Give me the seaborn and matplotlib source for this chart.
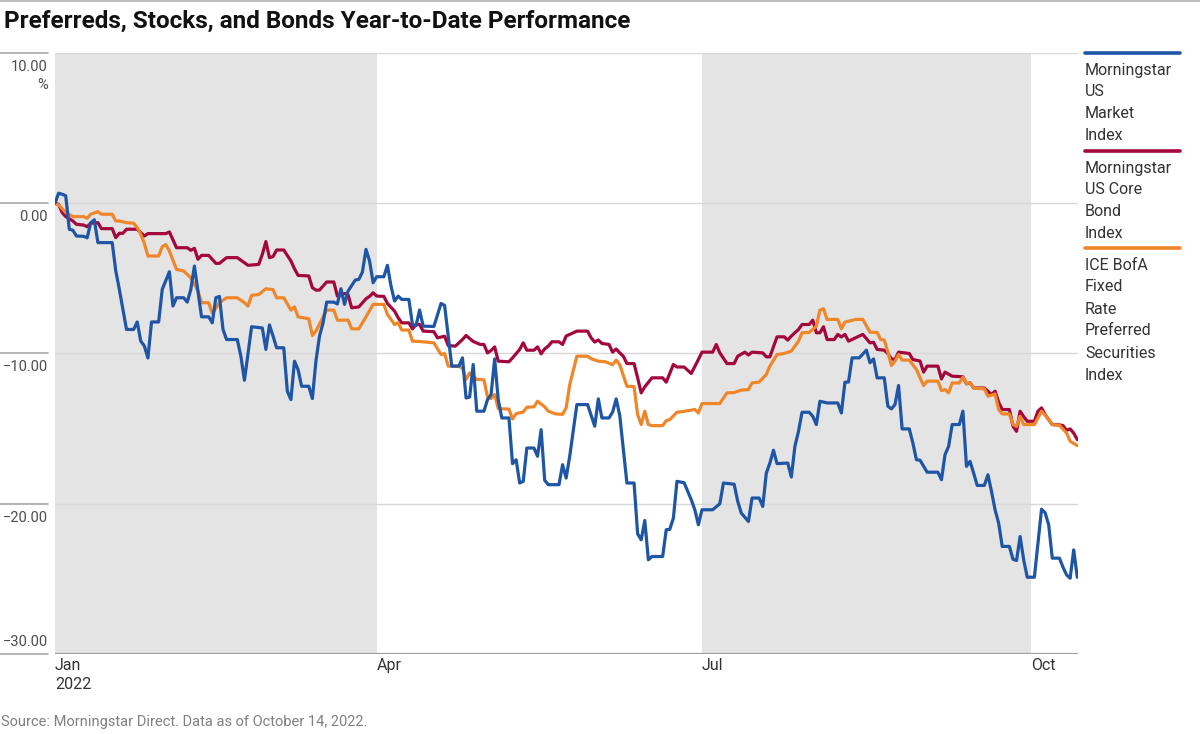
import pandas as pd
import matplotlib.pyplot as plt
import seaborn as sns
from matplotlib.lines import Line2D
from matplotlib.transforms import blended_transform_factory

# days counted from 2022-01-01, values are YTD total return in %
blue_day = [0, 1, 2, 3, 4, 5, 6, 8, 9, 10, 11, 12, 16, 17, 18, 20, 22, 23, 24, 25, 26, 27, 29, 30,
            32, 33, 34, 36, 37, 38, 39, 41, 43, 44, 45, 46, 47, 48, 51, 52, 53, 55, 58, 59, 60, 61,
            62, 64, 65, 66, 67, 68, 69, 71, 72, 73, 74, 75, 76, 78, 79, 80, 81, 82, 84, 85, 86, 87,
            88, 89, 90, 92, 93, 94, 95, 96, 97, 99, 100, 101, 102, 103, 106, 108, 109, 110, 111, 113,
            114, 115, 116, 117, 118, 120, 121, 122, 123, 124, 125, 127, 128, 129, 130, 131, 132, 134,
            135, 136, 137, 138, 141, 142, 143, 144, 146, 149, 151, 152, 153, 155, 156, 157, 158, 160,
            162, 163, 164, 165, 166, 167, 170, 171, 172, 173, 174, 176, 178, 179, 180, 181, 184, 186,
            187, 190, 191, 192, 194, 195, 197, 198, 199, 200, 201, 202, 205, 206, 207, 208, 209, 211,
            212, 213, 214, 216, 219, 220, 221, 222, 223, 225, 227, 228, 229, 230, 232, 233, 234, 235,
            236, 237, 239, 240, 241, 242, 244, 247, 248, 249, 250, 251, 253, 254, 255, 256, 257, 258,
            260, 261, 262, 263, 264, 265, 267, 268, 269, 270, 271, 272, 274, 275, 276, 277, 278, 279,
            281, 282, 283, 284, 285, 286]
blue_val = [0, 0.67, 0.6, 0.5, -1.73, -1.8, -2.18, -2.2, -2.3, -1.29, -1.1, -2.62, -2.62, -4.5, -5.73,
            -8.4, -8.4, -7.9, -9.18, -9.5, -10.3, -7.9, -7.9, -5.73, -4.56, -6.84, -6.29, -6.29, -6.58,
            -5.73, -4.18, -7.56, -7.56, -7.96, -6.29, -6.2, -8.4, -9.07, -9.07, -10.18, -11.78, -8.22,
            -8.3, -9.73, -8.1, -8.84, -9.62, -9.62, -12.51, -13.07, -10.51, -11.07, -12.18, -12.18,
            -13.0, -10.5, -8.84, -7.96, -6.58, -6.58, -6.7, -5.69, -6.73, -5.84, -5.11, -5.07, -4.58,
            -3.07, -3.84, -5.29, -4.89, -4.89, -4.13, -5.51, -6.51, -6.18, -6.4, -6.4, -8.07, -8.15,
            -7.11, -8.18, -8.2, -6.67, -6.8, -8.84, -10.84, -10.84, -10.29, -12.96, -12.9, -10.73,
            -13.84, -13.84, -13.07, -12.73, -10.36, -13.07, -14.29, -14.29, -17.33, -17.07, -18.62,
            -18.51, -16.29, -16.29, -16.84, -15.07, -18.44, -18.73, -18.73, -17.4, -18.29, -16.84,
            -13.4, -13.4, -14.84, -13.02, -14.29, -14.29, -13.9, -13.02, -14.13, -18.62, -18.62, -22.0,
            -22.4, -21.11, -23.73, -23.51, -23.51, -21.73, -21.7, -20.96, -18.51, -18.6, -19.73, -20.4,
            -21.4, -20.4, -20.4, -20.0, -18.62, -18.7, -19.84, -20.62, -21.18, -19.62, -19.62, -20.18,
            -17.96, -17.29, -16.44, -17.33, -17.29, -18.22, -16.18, -15.18, -13.91, -13.91, -14.18,
            -14.73, -13.18, -13.29, -13.29, -13.96, -11.91, -11.9, -10.29, -10.29, -9.78, -10.62,
            -10.36, -11.62, -11.62, -13.51, -13.69, -13.4, -12.13, -15.02, -15.02, -15.96, -17.07,
            -17.1, -17.9, -17.9, -18.4, -16.73, -16.18, -14.73, -14.73, -13.84, -17.51, -17.18, -17.96,
            -18.78, -18.78, -18.07, -19.18, -20.4, -21.29, -22.84, -22.84, -23.69, -23.78, -22.18,
            -23.73, -24.89, -24.89, -22.62, -20.36, -20.6, -21.4, -23.62, -23.62, -24.22, -24.73,
            -24.96, -23.07, -24.89]

red_day = [0, 1, 2, 3, 5, 6, 8, 9, 10, 12, 13, 16, 17, 18, 19, 20, 23, 25, 26, 31, 32, 34, 37, 38, 39,
           40, 41, 43, 45, 46, 48, 51, 54, 57, 58, 59, 60, 61, 62, 64, 66, 67, 68, 71, 72, 73, 74, 76,
           78, 79, 81, 82, 83, 85, 87, 88, 89, 90, 92, 93, 95, 96, 97, 99, 100, 101, 102, 103, 106,
           107, 109, 110, 112, 114, 115, 117, 119, 120, 121, 122, 123, 124, 127, 128, 130, 131, 132,
           134, 135, 136, 137, 138, 139, 141, 142, 143, 145, 146, 149, 150, 151, 152, 153, 155, 156,
           157, 158, 159, 160, 162, 163, 164, 165, 167, 170, 171, 173, 174, 176, 178, 180, 181, 184,
           185, 186, 188, 190, 191, 193, 194, 195, 198, 199, 200, 202, 204, 205, 206, 208, 209, 211,
           212, 213, 214, 215, 216, 218, 219, 220, 221, 222, 224, 226, 228, 229, 230, 232, 233, 234,
           235, 236, 239, 240, 242, 243, 244, 247, 248, 249, 251, 254, 255, 256, 257, 260, 262, 263,
           264, 265, 267, 268, 269, 270, 271, 272, 274, 275, 276, 277, 279, 281, 282, 283, 284, 285,
           286]
red_val = [0, -0.07, -0.62, -0.89, -1.18, -1.4, -1.45, -1.56, -1.33, -1.29, -1.69, -1.69, -2.29, -2.0,
           -2.0, -1.73, -1.73, -2.18, -2.02, -2.02, -1.91, -2.96, -2.96, -3.13, -3.0, -3.73, -3.47,
           -3.47, -4.0, -4.0, -3.62, -3.62, -4.13, -4.07, -3.4, -2.55, -3.62, -3.55, -3.11, -3.11,
           -3.84, -4.36, -4.8, -4.84, -5.62, -5.78, -5.78, -5.24, -5.24, -6.18, -6.0, -6.1, -6.96,
           -6.9, -6.36, -6.2, -5.96, -6.18, -6.2, -6.67, -7.18, -7.62, -7.96, -7.96, -8.36, -8.07,
           -8.07, -8.51, -8.55, -8.96, -8.85, -9.47, -9.51, -9.07, -8.8, -9.2, -9.4, -9.4, -9.96, -9.8,
           -9.56, -10.51, -10.55, -10.29, -9.73, -9.29, -9.78, -9.78, -9.56, -10.02, -9.69, -9.51,
           -9.22, -9.22, -9.4, -8.84, -8.62, -8.51, -8.51, -8.96, -9.24, -9.1, -9.33, -9.4, -9.91,
           -9.7, -9.96, -10.18, -10.67, -10.67, -11.62, -12.62, -12.22, -11.62, -11.62, -11.91,
           -10.73, -10.9, -10.9, -11.33, -10.4, -9.91, -9.91, -9.4, -9.96, -10.67, -10.67, -10.18,
           -9.91, -10.1, -9.91, -9.96, -10.22, -10.22, -8.89, -8.89, -9.11, -8.84, -8.4, -8.07, -8.07,
           -7.78, -8.62, -8.62, -8.22, -9.07, -9.07, -8.73, -8.9, -8.73, -9.18, -8.95, -8.73, -9.29,
           -9.25, -9.73, -9.78, -10.0, -10.36, -10.4, -9.91, -10.0, -10.4, -10.5, -11.24, -10.84,
           -10.84, -11.69, -11.24, -11.51, -11.55, -12.02, -11.95, -12.29, -12.3, -12.73, -12.51,
           -13.24, -13.73, -13.73, -14.84, -15.18, -13.84, -14.2, -14.51, -14.51, -13.84, -13.62,
           -14.07, -14.73, -14.75, -14.8, -15.11, -15.02, -15.3, -15.73]

orange_day = [0, 1, 3, 5, 8, 9, 10, 12, 13, 16, 17, 18, 20, 22, 23, 24, 25, 26, 29, 30, 31, 32, 34,
              36, 38, 40, 41, 43, 44, 46, 48, 51, 53, 54, 55, 57, 59, 61, 62, 64, 66, 67, 68, 71, 72,
              73, 76, 78, 79, 82, 83, 85, 87, 89, 90, 92, 93, 95, 96, 97, 99, 100, 102, 106, 108, 109,
              110, 113, 114, 115, 116, 118, 120, 121, 122, 123, 124, 127, 128, 129, 131, 132, 134, 135,
              137, 138, 140, 142, 143, 144, 146, 149, 150, 152, 154, 156, 157, 158, 160, 162, 163, 164,
              165, 166, 167, 170, 171, 172, 174, 176, 179, 180, 181, 186, 188, 190, 192, 194, 195, 197,
              199, 200, 202, 204, 206, 208, 209, 211, 213, 214, 215, 216, 219, 220, 221, 222, 224, 226,
              228, 230, 231, 232, 233, 234, 235, 236, 237, 239, 241, 243, 244, 247, 248, 249, 250, 251,
              253, 254, 255, 256, 257, 260, 261, 263, 264, 265, 267, 268, 269, 270, 271, 274, 275, 276,
              277, 279, 281, 283, 284, 286]
orange_val = [0, -0.1, -0.62, -0.89, -0.89, -1.0, -0.73, -0.56, -0.73, -0.73, -1.18, -1.18, -1.29,
              -1.33, -1.62, -2.07, -2.67, -3.51, -3.51, -2.89, -2.75, -3.18, -4.4, -4.51, -4.96, -5.84,
              -6.62, -6.62, -7.33, -6.62, -6.29, -6.29, -6.62, -6.84, -6.13, -6.07, -5.69, -5.75, -6.29,
              -6.29, -7.11, -6.9, -7.56, -7.69, -8.8, -8.51, -7.11, -7.11, -7.78, -7.78, -8.36, -8.36,
              -7.56, -6.73, -6.73, -6.73, -7.4, -8.07, -7.95, -8.44, -8.44, -9.18, -9.2, -9.29, -10.07,
              -10.0, -10.84, -10.84, -11.0, -11.73, -11.3, -11.73, -11.75, -12.89, -13.0, -12.73,
              -13.67, -13.7, -14.36, -14.0, -13.9, -13.58, -13.55, -13.18, -13.55, -13.84, -14.02,
              -14.05, -13.62, -12.07, -10.18, -10.18, -10.35, -10.51, -10.55, -10.75, -10.44, -10.75,
              -12.18, -12.2, -14.07, -14.73, -13.84, -14.73, -14.8, -14.8, -14.47, -14.4, -13.91,
              -13.85, -13.73, -13.96, -13.33, -13.33, -12.62, -12.6, -12.44, -12.4, -11.96, -11.9,
              -11.4, -10.84, -10.07, -10.0, -9.84, -9.18, -8.62, -8.6, -8.18, -7.11, -7.02, -7.73,
              -7.73, -8.36, -7.91, -7.85, -7.73, -7.73, -8.58, -8.6, -9.07, -9.1, -9.9, -10.8, -10.51,
              -10.07, -10.44, -10.44, -11.07, -12.13, -11.84, -11.84, -12.47, -12.4, -12.62, -11.96,
              -11.96, -11.58, -12.0, -11.95, -12.29, -12.35, -12.84, -12.7, -13.73, -14.02, -14.02,
              -14.73, -14.85, -14.18, -14.73, -14.73, -14.29, -13.84, -14.1, -14.73, -14.78, -15.29,
              -15.84, -16.13]

legend_lines = [["Morningstar", "US", "Market", "Index"],
                ["Morningstar", "US Core", "Bond", "Index"],
                ["ICE BofA", "Fixed", "Rate", "Preferred", "Securities", "Index"]]
colors = ["#1f55a5", "#a4073c", "#f0862a"]

y_ticks = [10, 0, -10, -20, -30]
x_tick_dates = ["2022-01-01", "2022-04-01", "2022-07-01", "2022-10-01"]
x_tick_labels = ["Jan\n2022", "Apr", "Jul", "Oct"]
shaded = [("2022-01-01", "2022-04-01"), ("2022-07-01", "2022-10-01")]

start = pd.Timestamp("2022-01-01")


def to_dates(days):
    return start + pd.to_timedelta(days, unit="D")


sns.set_theme(style="white")
plt.rcParams["font.family"] = ["Roboto", "DejaVu Sans"]

W, H = 1200, 734
fig = plt.figure(figsize=(W / 100, H / 100), dpi=100)
ax = fig.add_axes([55 / W, 1 - 654 / H, (1078 - 55) / W, (654 - 53) / H])

for a, b in shaded:
    ax.axvspan(pd.Timestamp(a), pd.Timestamp(b), color="#e4e4e4", lw=0, zorder=0)
for v in y_ticks[:-1]:
    ax.axhline(v, color="#d8d8d8", lw=1, zorder=1)
ax.axhline(-30, color="#a0a0a0", lw=1.6, zorder=1)

data = [(red_day, red_val, 1), (orange_day, orange_val, 2), (blue_day, blue_val, 0)]
for days, vals, i in data:
    sns.lineplot(x=to_dates(days), y=vals, color=colors[i], lw=2.3, ax=ax,
                 estimator=None, zorder=3)

ax.set_xlim(start, start + pd.Timedelta(days=286.2))
ax.set_ylim(-30, 10)
for s in ax.spines.values():
    s.set_visible(False)
ax.set_yticks([])
ax.set_xticks(pd.to_datetime(x_tick_dates))
ax.set_xticklabels(x_tick_labels, ha="left", fontsize=11.5, color="#333333", linespacing=1.3)
ax.tick_params(axis="x", length=0, pad=3)
ax.set_xlabel("")
ax.set_ylabel("")

# y labels sit under their grid lines, with short rules out to the left edge
trans = blended_transform_factory(fig.transFigure, ax.transData)
for v in y_ticks:
    fig.add_artist(Line2D([0, 48 / W], [v, v], transform=trans, color="#a8a8a8", lw=1.2))
    txt = f"{v:.2f}".replace("-", "\u2212")
    if v == 10:
        txt += "\n%"
    if v == -30:
        ax.text(48 / W, v + 0.3, txt, transform=trans, ha="right", va="bottom",
                fontsize=10.5, color="#4d4d4d")
    else:
        ax.text(48 / W, v - 0.45, txt, transform=trans, ha="right", va="top",
                multialignment="right", fontsize=10.5, color="#4d4d4d", linespacing=1.35)

# legend on the right
leg_top = [53, 151, 248]
for i, lines in enumerate(legend_lines):
    y0 = leg_top[i]
    fig.add_artist(Line2D([1085 / W, 1180 / W], [1 - y0 / H] * 2, color=colors[i], lw=2.6))
    for k, word in enumerate(lines):
        fig.text(1085 / W, 1 - (y0 + 17 + 22 * k) / H, word, ha="left", va="center",
                 fontsize=11.5, color="#333333")

fig.add_artist(Line2D([0, 1], [1 - 1 / H] * 2, color="#b0b0b0", lw=1.2))
fig.text(4 / W, 1 - 21 / H, "Preferreds, Stocks, and Bonds Year-to-Date Performance",
         ha="left", va="center", fontsize=17.5, fontweight="bold", color="#111111")
fig.text(1 / W, 1 - 722 / H, "Source: Morningstar Direct. Data as of October 14, 2022.",
         ha="left", va="center", fontsize=10.5, color="#808080")

fig.savefig("out.png", dpi=100)
